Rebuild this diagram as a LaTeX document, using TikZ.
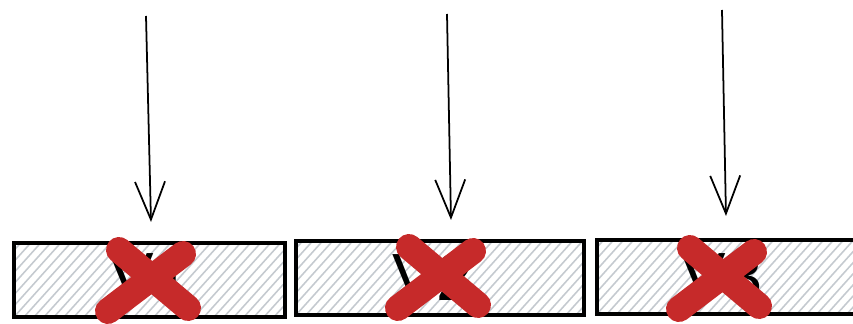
\documentclass[tikz,border=0pt]{standalone}
\usepackage{fontspec}
\setsansfont{Liberation Sans}
\usepackage{tikz}
\usetikzlibrary{arrows.meta,positioning,calc}
\definecolor{CrossRed}{HTML}{C62A2A}
\definecolor{HatchGrey}{HTML}{C5CAD0}

\begin{document}
\begin{tikzpicture}[
  x=0.02cm,y=-0.02cm,
  hatchline/.style={draw=HatchGrey,line width=0.9pt},
  vbox/.style={draw=black,line width=2.1pt,minimum height=1.48cm,inner sep=0pt,
    path picture={\foreach \k in {0,...,50}{
      \draw[hatchline] ([xshift=\k*0.2cm-2cm]path picture bounding box.south west) -- ++(1.8cm,2cm);}}},
  vlabel/.style={font=\fontsize{38}{42}\selectfont\sffamily,inner sep=0pt},
  cross/.style={draw=CrossRed,line width=0.52cm,line cap=round},
  edge/.style={-{Straight Barb[length=0.76cm,width=0.6cm]},draw=black,line width=1pt}
]
\useasboundingbox (0,0) rectangle (853,324);
% versioned boxes
\node[vbox,minimum width=5.42cm] (box1) at (149.5,280) {};
\node[vbox,minimum width=5.76cm] (box2) at (440,278) {};
\node[vbox,minimum width=5.76cm] (box3) at (741,277) {};
\node[vlabel] (lab1) at (150,277) {V1};
\node[vlabel] (lab2) at (433,277) {V2};
\node[vlabel] (lab3) at (722,277) {V3};
% incoming arrows
\coordinate (tail1) at (146,16);  \coordinate (head1) at (151,222);
\coordinate (tail2) at (447,14);  \coordinate (head2) at (451,220);
\coordinate (tail3) at (722,10);  \coordinate (head3) at (726,216);
\foreach \i in {1,2,3}{\draw[edge] (tail\i) -- (head\i);}
% red crosses
\coordinate (x1) at (150,280);
\coordinate (x2) at (440,277);
\coordinate (x3) at (721,278);
\foreach \i in {1,2,3}{
  \draw[cross] ($(x\i)+(-31,-30)$) -- ($(x\i)+(38,28)$);
  \draw[cross] ($(x\i)+(33,-26)$) -- ($(x\i)+(-42,31)$);
}
\end{tikzpicture}
\end{document}
